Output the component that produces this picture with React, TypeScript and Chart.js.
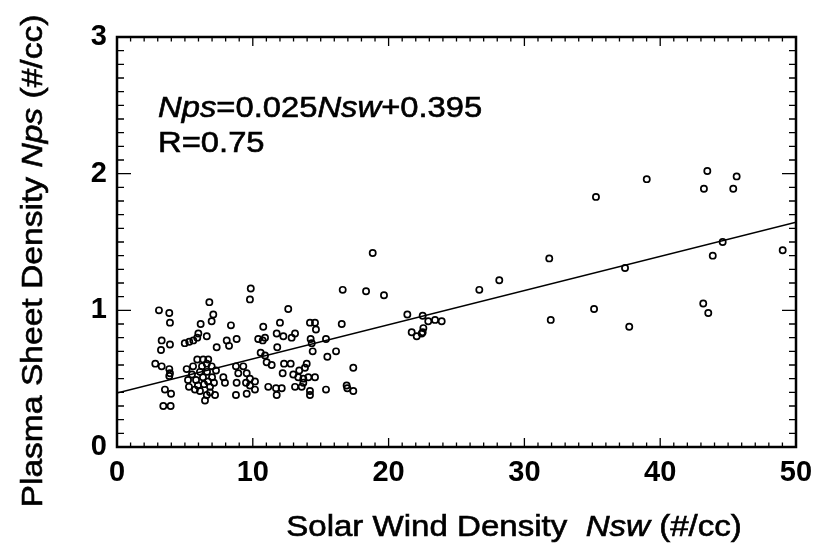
import React, { useEffect, useRef } from "react";
import { Chart, registerables } from "chart.js";

Chart.register(...registerables);

// Solar wind density (x) and plasma sheet density (y) observations
const nswValues: number[] = [
  9.85, 9.79, 6.80, 3.09, 3.85, 7.09, 6.97, 3.90, 6.16, 8.39, 5.99, 6.61, 3.29, 3.90, 3.24, 4.99, 5.32, 5.62, 5.91, 8.08,
  8.81, 8.25, 7.34, 2.82, 3.29, 3.85, 3.90, 3.85, 5.13, 5.91, 6.35, 6.72, 6.61, 6.97, 7.83, 7.95, 8.76, 9.30, 8.93, 9.55,
  8.81, 9.50, 8.76, 3.53, 3.98, 3.41, 3.95, 5.30, 5.74, 6.11, 6.61, 6.48, 6.85,
  5.52, 5.82, 6.11, 6.33, 6.63, 7.00, 5.96, 6.41, 6.85, 7.14, 5.60, 7.29, 6.26, 5.23, 7.22, 6.70,
  16.62, 18.34, 12.61, 10.77, 12.00, 14.21, 14.58, 16.55, 14.65, 11.76, 12.25, 12.86, 13.11, 10.40, 10.73, 10.90, 14.26,
  14.34, 15.39, 11.80, 14.41, 16.13, 15.49, 10.58, 10.90, 11.02, 11.39, 12.30, 12.79, 13.97, 13.84, 13.42, 12.20, 12.98,
  13.35, 13.72, 14.09, 14.58, 17.40, 9.79, 10.16, 9.79, 9.55, 10.16, 11.14, 11.71, 12.13, 11.76, 13.11, 13.60, 13.72,
  14.21, 14.21, 15.39, 16.91, 16.96, 17.40,
  18.83, 19.66, 28.15, 26.68, 21.38, 22.51, 22.92, 23.42, 23.91, 22.56, 22.51, 22.44, 21.70, 22.07,
  35.27, 39.01, 43.47, 45.63, 43.22, 45.38, 31.83, 37.41, 44.60, 43.87, 49.02, 31.94, 35.13, 37.72, 43.17, 43.54,
];
const npsValues: number[] = [
  1.16, 1.08, 1.06, 1.00, 0.98, 0.97, 0.92, 0.91, 0.90, 0.89, 0.83, 0.81, 0.78, 0.75, 0.71, 0.76, 0.77, 0.78, 0.80, 0.78,
  0.79, 0.74, 0.73, 0.61, 0.59, 0.57, 0.54, 0.52, 0.57, 0.64, 0.64, 0.64, 0.61, 0.59, 0.51, 0.47, 0.59, 0.59, 0.54, 0.54,
  0.47, 0.47, 0.38, 0.42, 0.39, 0.30, 0.30, 0.44, 0.42, 0.41, 0.38, 0.34, 0.44,
  0.53, 0.49, 0.55, 0.51, 0.55, 0.51, 0.45, 0.46, 0.40, 0.47, 0.59, 0.56, 0.59, 0.49, 0.38, 0.48,
  1.15, 1.14, 1.01, 0.88, 0.91, 0.91, 0.91, 0.90, 0.86, 0.83, 0.81, 0.80, 0.83, 0.79, 0.78, 0.80, 0.79,
  0.76, 0.79, 0.73, 0.70, 0.70, 0.66, 0.69, 0.67, 0.62, 0.60, 0.61, 0.61, 0.61, 0.58, 0.56, 0.54, 0.53,
  0.51, 0.50, 0.51, 0.51, 0.58, 0.50, 0.48, 0.45, 0.39, 0.42, 0.44, 0.43, 0.43, 0.38, 0.44, 0.44, 0.47,
  0.41, 0.38, 0.42, 0.45, 0.43, 0.41,
  1.42, 1.11, 1.22, 1.15, 0.97, 0.96, 0.92, 0.93, 0.92, 0.87, 0.84, 0.83, 0.84, 0.81,
  1.83, 1.96, 2.02, 1.98, 1.89, 1.89, 1.38, 1.31, 1.50, 1.40, 1.44, 0.93, 1.01, 0.88, 1.05, 0.98,
];

// Regression line end points: Nps = 0.025 Nsw + 0.395
const fitX: number[] = [0, 50];
const fitY: number[] = [0.395, 1.645];

// Axis ranges and ticks
const xRange: number[] = [0, 50];
const yRange: number[] = [0, 3];
const xMajorStep = 10;
const yMajorStep = 1;
const xMinorStep = 1;
const yMinorStep = 0.1;

const annotationLine1 = [
  { t: "Nps", i: true },
  { t: "=0.025", i: false },
  { t: "Nsw", i: true },
  { t: "+0.395", i: false },
];
const annotationLine2 = [{ t: "R=0.75", i: false }];
const xTitle = [
  { t: "Solar Wind Density  ", i: false },
  { t: "Nsw", i: true },
  { t: " (#/cc)", i: false },
];
const yTitle = [
  { t: "Plasma Sheet Density ", i: false },
  { t: "Nps", i: true },
  { t: " (#/cc)", i: false },
];

const FAMILY = '"Liberation Sans", Arial, Helvetica, sans-serif';

function drawRich(
  ctx: CanvasRenderingContext2D,
  segs: { t: string; i: boolean }[],
  x: number,
  y: number,
  size: number,
  align: "left" | "center",
  stretch: number,
  rotate = 0
) {
  ctx.save();
  ctx.translate(x, y);
  if (rotate) ctx.rotate(rotate);
  ctx.scale(stretch, 1);
  ctx.textAlign = "left";
  ctx.textBaseline = "alphabetic";
  ctx.fillStyle = "#000";
  ctx.strokeStyle = "#000";
  ctx.lineWidth = 0.6;
  const fontFor = (it: boolean) => `${it ? "italic " : ""}${size}px ${FAMILY}`;
  let total = 0;
  const widths = segs.map((s) => {
    ctx.font = fontFor(s.i);
    const w = ctx.measureText(s.t).width;
    total += w;
    return w;
  });
  let cx = align === "center" ? -total / 2 : 0;
  segs.forEach((s, k) => {
    ctx.font = fontFor(s.i);
    ctx.fillText(s.t, cx, 0);
    ctx.strokeText(s.t, cx, 0);
    cx += widths[k];
  });
  ctx.restore();
}

const framePlugin = {
  id: "frameTicks",
  afterDraw(chart: any) {
    const { ctx, chartArea, scales } = chart;
    const { left, right, top, bottom } = chartArea;
    const xs = scales.x;
    const ys = scales.y;
    ctx.save();
    ctx.strokeStyle = "#000";
    ctx.lineWidth = 1.3;
    ctx.beginPath();
    const nX = Math.round((xRange[1] - xRange[0]) / xMinorStep);
    for (let k = 0; k <= nX; k++) {
      const v = xRange[0] + k * xMinorStep;
      const px = xs.getPixelForValue(v);
      const major = k % Math.round(xMajorStep / xMinorStep) === 0;
      const len = major ? 9 : 4.5;
      ctx.moveTo(px, bottom);
      ctx.lineTo(px, bottom - len);
      ctx.moveTo(px, top);
      ctx.lineTo(px, top + len);
    }
    const nY = Math.round((yRange[1] - yRange[0]) / yMinorStep);
    for (let k = 0; k <= nY; k++) {
      const v = yRange[0] + k * yMinorStep;
      const py = ys.getPixelForValue(v);
      const major = k % Math.round(yMajorStep / yMinorStep) === 0;
      const len = major ? 14 : 7;
      ctx.moveTo(left, py);
      ctx.lineTo(left + len, py);
      ctx.moveTo(right, py);
      ctx.lineTo(right - len, py);
    }
    ctx.stroke();
    ctx.lineWidth = 2.5;
    ctx.strokeRect(left, top, right - left, bottom - top);
    ctx.restore();

    drawRich(ctx, annotationLine1, 158, 117, 29, "left", 1.13);
    drawRich(ctx, annotationLine2, 158, 152, 29, "left", 1.13);
    drawRich(ctx, xTitle, 514, 536, 29, "center", 1.14);
    drawRich(ctx, yTitle, 42, 261, 30, "center", 1.12, -Math.PI / 2);
  },
};

export default function App() {
  const ref = useRef<HTMLCanvasElement | null>(null);
  useEffect(() => {
    if (!ref.current) return;
    const points = nswValues.map((x, k) => ({ x, y: npsValues[k] }));
    const fit = fitX.map((x, k) => ({ x, y: fitY[k] }));
    const chart = new Chart(ref.current, {
      type: "scatter",
      data: {
        datasets: [
          {
            type: "line",
            data: fit,
            borderColor: "#000",
            borderWidth: 1.6,
            pointRadius: 0,
            fill: false,
          } as any,
          {
            data: points,
            pointRadius: 3.1,
            pointBorderWidth: 1.7,
            borderColor: "#000",
            backgroundColor: "rgba(0,0,0,0)",
            pointStyle: "circle",
          },
        ],
      },
      options: {
        animation: false,
        responsive: false,
        devicePixelRatio: 1,
        layout: { padding: { left: 0, top: 37, right: 29, bottom: 0 } },
        plugins: { legend: { display: false }, tooltip: { enabled: false } },
        scales: {
          x: {
            type: "linear",
            min: xRange[0],
            max: xRange[1],
            grid: { display: false, drawTicks: false },
            border: { display: false },
            ticks: {
              stepSize: xMajorStep,
              padding: 9,
              color: "#000",
              font: { family: FAMILY, size: 29, weight: "bold" },
            },
            afterFit: (s: any) => {
              s.height = 103;
            },
          },
          y: {
            type: "linear",
            min: yRange[0],
            max: yRange[1],
            grid: { display: false, drawTicks: false },
            border: { display: false },
            ticks: {
              stepSize: yMajorStep,
              padding: 10,
              color: "#000",
              font: { family: FAMILY, size: 29, weight: "bold" },
            },
            afterFit: (s: any) => {
              s.width = 117;
            },
          },
        },
      },
      plugins: [framePlugin],
    });
    return () => chart.destroy();
  }, []);
  return (
    <div style={{ position: "absolute", left: 0, top: 0, width: 825, height: 550, background: "#fff" }}>
      <canvas ref={ref} width={825} height={550} />
    </div>
  );
}
